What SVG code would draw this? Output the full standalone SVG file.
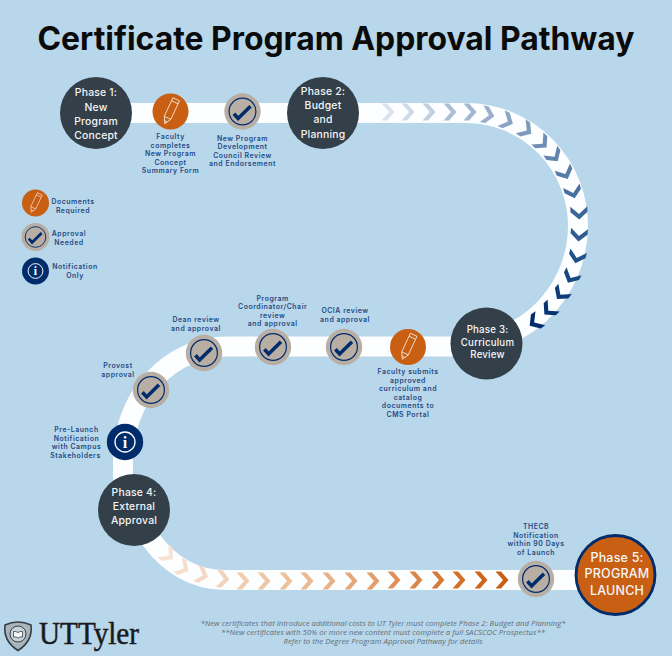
<svg xmlns="http://www.w3.org/2000/svg" width="672" height="656" viewBox="0 0 672 656">
<style>
.road{fill:none;stroke:#fdfeff;stroke-width:20}
.title{font:700 32px Inter,"Liberation Sans",sans-serif;fill:#0b0b0c;text-anchor:middle}
.ph{font:500 10.4px Inter,"Liberation Sans",sans-serif;fill:#f4f6f7;text-anchor:middle;letter-spacing:.2px}
.ph3{font-size:9.700px}
.ph5{font-size:12.500px}
.lb{font:600 6.9px Inter,"Liberation Sans",sans-serif;fill:#1f4a85;text-anchor:middle;letter-spacing:.55px}
.fn{font:italic 400 7.6px "Open Sans","Liberation Sans",sans-serif;fill:#5f6f7b;text-anchor:middle}
.dark{fill:#333f49}
.i-o{fill:#c95f13}
.i-b{fill:#b8aea3}
.i-n{fill:#012c6c}
.ring{fill:none;stroke:#012c6c;stroke-width:1.2}
.line{fill:none;stroke:#f6e9dc;stroke-width:.8;stroke-linejoin:round}
</style>
<defs>
<path id="chev" d="M-6.500-8.500H-1L6.500 0-1 8.500H-6.500L1 0Z"/>
<g id="doc"><circle r="18" class="i-o"/><g transform="rotate(25)"><path class="line" d="M-3.600-13.500H3.600V7L0 13.500-3.600 7ZM-3.600-10.200H3.600M-3.600 7H3.600M-1.200 10.800H1.200"/></g></g>
<g id="chk"><circle r="18.200" class="i-b"/><circle r="13.400" class="ring"/><path d="M-8.600 2.200-4.400 7 8-5.200" fill="none" stroke="#012c6c" stroke-width="3.600"/></g>
<g id="inf"><circle r="18.200" class="i-n"/><circle r="10" fill="none" stroke="#fff" stroke-width="1.300"/><text y="5.600" text-anchor="middle" font-family="'Liberation Serif',serif" font-weight="700" font-size="16" fill="#fff">i</text></g>
</defs>
<rect width="672" height="656" fill="#b9d7ea"/>
<text class="title" x="336" y="50" textLength="597" lengthAdjust="spacingAndGlyphs">Certificate Program Approval Pathway</text>
<g id="connectors">
<path class="road" d="M96 113H467A112 113 0 0 1 578 227A112 118 0 0 1 500 337"/>
<path class="road" d="M486 346.500H227A104 113 0 0 0 123 460V510"/>
<path class="road" d="M140 525L152 541C170 565 195 580 225 580H615"/>
<g id="chevrons-top">
<use href="#chev" transform="translate(388 112)" fill="#dbe3ec"/>
<use href="#chev" transform="translate(408 112)" fill="#cfdae6"/>
<use href="#chev" transform="translate(429 112)" fill="#c0cfe0"/>
<use href="#chev" transform="translate(450 112)" fill="#adbfd6"/>
<use href="#chev" transform="translate(470 112)" fill="#a2b7d0"/>
<use href="#chev" transform="translate(488 115) rotate(12)" fill="#98aecb"/>
<use href="#chev" transform="translate(507 121) rotate(25)" fill="#8aa4c4"/>
<use href="#chev" transform="translate(526 130) rotate(35)" fill="#7d99bc"/>
<use href="#chev" transform="translate(542 143) rotate(45)" fill="#6f8eb5"/>
<use href="#chev" transform="translate(554 156) rotate(55)" fill="#6285ae"/>
<use href="#chev" transform="translate(565 173) rotate(65)" fill="#557ba7"/>
<use href="#chev" transform="translate(573 192) rotate(75)" fill="#48709f"/>
<use href="#chev" transform="translate(579 213) rotate(88)" fill="#3b6597"/>
<use href="#chev" transform="translate(579 235) rotate(95)" fill="#2e5b90"/>
<use href="#chev" transform="translate(577 257) rotate(105)" fill="#225188"/>
<use href="#chev" transform="translate(571 277) rotate(118)" fill="#174680"/>
<use href="#chev" transform="translate(561 294) rotate(128)" fill="#0e3c78"/>
<use href="#chev" transform="translate(549 310) rotate(135)" fill="#063372"/>
<use href="#chev" transform="translate(535 322) rotate(145)" fill="#012c6c"/>
</g>
<g id="chevrons-bottom">
<use href="#chev" transform="translate(168 555) rotate(40)" fill="#f7e3d4"/>
<use href="#chev" transform="translate(183 568) rotate(30)" fill="#f6dfcd"/>
<use href="#chev" transform="translate(202 575) rotate(18)" fill="#f4dac6"/>
<use href="#chev" transform="translate(223 579) rotate(5)" fill="#f2d2b8"/>
<use href="#chev" transform="translate(243 581)" fill="#f0cdb0"/>
<use href="#chev" transform="translate(264 581)" fill="#eec7a6"/>
<use href="#chev" transform="translate(286 581)" fill="#ecc19c"/>
<use href="#chev" transform="translate(307 581)" fill="#eab992"/>
<use href="#chev" transform="translate(329 581)" fill="#e8b186"/>
<use href="#chev" transform="translate(351 581)" fill="#e5a878"/>
<use href="#chev" transform="translate(373 581)" fill="#e29f6b"/>
<use href="#chev" transform="translate(394 580)" fill="#de9258"/>
<use href="#chev" transform="translate(416 580)" fill="#da8647"/>
<use href="#chev" transform="translate(438 580)" fill="#d67a38"/>
<use href="#chev" transform="translate(459 580)" fill="#d27029"/>
<use href="#chev" transform="translate(481 580)" fill="#cd671d"/>
<use href="#chev" transform="translate(502 580)" fill="#c95f13"/>
</g>
</g>
<g id="phase1"><circle cx="96" cy="113" r="36" class="dark"/>
<text class="ph" x="96" y="96">Phase 1:</text><text class="ph" x="96" y="110.500">New</text><text class="ph" x="96" y="125">Program</text><text class="ph" x="96" y="139">Concept</text></g>
<g id="phase2"><circle cx="323" cy="113" r="36" class="dark"/>
<text class="ph" x="323" y="94.500">Phase 2:</text><text class="ph" x="323" y="108.700">Budget</text><text class="ph" x="323" y="123.300">and</text><text class="ph" x="323" y="137.700">Planning</text></g>
<g id="phase3"><circle cx="486.500" cy="343.500" r="36" class="dark"/>
<text class="ph ph3" x="487.500" y="333">Phase 3:</text><text class="ph ph3" x="487.500" y="345.500">Curriculum</text><text class="ph ph3" x="487.500" y="357.700">Review</text></g>
<g id="phase4"><circle cx="134" cy="510" r="36" class="dark"/>
<text class="ph" x="134" y="495.700">Phase 4:</text><text class="ph" x="134" y="510">External</text><text class="ph" x="134" y="524.300">Approval</text></g>
<g id="phase5"><circle cx="615.500" cy="575" r="39.500" class="i-o" stroke="#012c6c" stroke-width="2.800"/>
<text class="ph ph5" x="617" y="562">Phase 5:</text><text class="ph ph5" x="617" y="578.300">PROGRAM</text><text class="ph ph5" x="617" y="594.700">LAUNCH</text></g>
<g id="step-faculty-form"><use href="#doc" x="170.500" y="111.500"/>
<text class="lb" x="170.500" y="139">Faculty</text><text class="lb" x="170.500" y="148">completes</text><text class="lb" x="170.500" y="156.400">New Program</text><text class="lb" x="170.500" y="165">Concept</text><text class="lb" x="170.500" y="173.400">Summary Form</text></g>
<g id="step-council"><use href="#chk" x="242.500" y="111.500"/>
<text class="lb" x="242.500" y="140.700">New Program</text><text class="lb" x="242.500" y="149.200">Development</text><text class="lb" x="242.500" y="157.700">Council Review</text><text class="lb" x="242.500" y="166.300">and Endorsement</text></g>
<g id="legend-documents"><use href="#doc" transform="translate(35.500 203) scale(.75)"/>
<text class="lb" x="73" y="204">Documents</text><text class="lb" x="73" y="212.700">Required</text></g>
<g id="legend-approval"><use href="#chk" transform="translate(35.500 237) scale(.77)"/>
<text class="lb" x="69" y="236.300">Approval</text><text class="lb" x="69" y="245">Needed</text></g>
<g id="legend-notification"><use href="#inf" transform="translate(35.500 271) scale(.74)"/>
<text class="lb" x="75" y="269">Notification</text><text class="lb" x="75" y="277.700">Only</text></g>
<g id="step-coordinator"><use href="#chk" x="273" y="347"/>
<text class="lb" x="272.700" y="300.700">Program</text><text class="lb" x="272.700" y="309">Coordinator/Chair</text><text class="lb" x="272.700" y="317.700">review</text><text class="lb" x="272.700" y="326.300">and approval</text></g>
<g id="step-dean"><use href="#chk" x="204" y="353"/>
<text class="lb" x="196" y="322.300">Dean review</text><text class="lb" x="196" y="330.700">and approval</text></g>
<g id="step-provost"><use href="#chk" x="151" y="390"/>
<text class="lb" x="118" y="368">Provost</text><text class="lb" x="118" y="376.700">approval</text></g>
<g id="step-prelaunch"><use href="#inf" x="125" y="442"/>
<text class="lb" x="76.500" y="432.300">Pre-Launch</text><text class="lb" x="76.500" y="441">Notification</text><text class="lb" x="76.500" y="449.400">with Campus</text><text class="lb" x="75.500" y="458">Stakeholders</text></g>
<g id="step-ocia"><use href="#chk" x="344" y="347"/>
<text class="lb" x="345" y="313">OCIA review</text><text class="lb" x="345" y="321.700">and approval</text></g>
<g id="step-cms"><use href="#doc" x="408" y="347"/>
<text class="lb" x="408" y="374">Faculty submits</text><text class="lb" x="408" y="382.700">approved</text><text class="lb" x="408" y="391">curriculum and</text><text class="lb" x="408" y="399.700">catalog</text><text class="lb" x="408" y="408">documents to</text><text class="lb" x="408" y="416.700">CMS Portal</text></g>
<g id="step-thecb"><use href="#chk" x="536" y="579"/>
<text class="lb" x="536" y="529">THECB</text><text class="lb" x="536" y="538">Notification</text><text class="lb" x="536" y="546.400">within 90 Days</text><text class="lb" x="536" y="555">of Launch</text></g>
<g id="footnote">
<text class="fn" x="383" y="626" textLength="365" lengthAdjust="spacingAndGlyphs">*New certificates that introduce additional costs to UT Tyler must complete Phase 2: Budget and Planning*</text>
<text class="fn" x="383" y="635" textLength="324" lengthAdjust="spacingAndGlyphs">**New certificates with 50% or more new content must complete a full SACSCOC Prospectus**</text>
<text class="fn" x="383" y="644" textLength="199" lengthAdjust="spacingAndGlyphs">Refer to the Degree Program Approval Pathway for details</text>
</g>
<g id="logo">
<path d="M5 625Q18 619 31 625Q33 641 18 650.500Q3 641 5 625Z" fill="#aab4bb" stroke="#333f49" stroke-width="1.600"/>
<circle cx="18" cy="634" r="8" fill="#c9d3d9" stroke="#333f49" stroke-width="1"/>
<path d="M13.500 631.500Q16 631 18 632.500Q20 631 22.500 631.500V637Q20 636.500 18 638Q16 636.500 13.500 637Z" fill="#f4f6f7" stroke="#333f49" stroke-width=".8"/>
<text x="39" y="644" font-family="'Liberation Serif',serif" font-size="31" fill="#1a1a1c" stroke="#1a1a1c" stroke-width=".5" textLength="100" lengthAdjust="spacingAndGlyphs">UTTyler</text>
</g>
</svg>
